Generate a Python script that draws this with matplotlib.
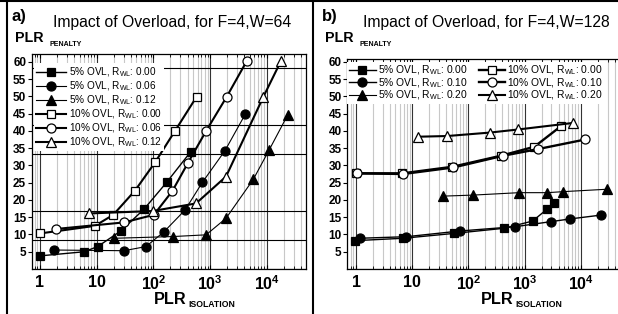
import matplotlib
matplotlib.use('Agg')
import matplotlib.pyplot as plt
from matplotlib.ticker import MultipleLocator, FixedLocator, FixedFormatter, LogLocator, NullFormatter
from matplotlib.lines import Line2D

plt.rcParams['font.family'] = ['Liberation Sans', 'DejaVu Sans']
plt.rcParams['mathtext.fontset'] = 'custom'
plt.rcParams['mathtext.rm'] = 'Liberation Sans'
plt.rcParams['mathtext.bf'] = 'Liberation Sans:bold'
plt.rcParams['mathtext.it'] = 'Liberation Sans:italic'

# panel a: F=4, W=64
a_labels = ['5% OVL, R$_{\\mathrm{WL}}$: 0.00', '5% OVL, R$_{\\mathrm{WL}}$: 0.06',
            '5% OVL, R$_{\\mathrm{WL}}$: 0.12', '10% OVL, R$_{\\mathrm{WL}}$: 0.00',
            '10% OVL, R$_{\\mathrm{WL}}$: 0.06', '10% OVL, R$_{\\mathrm{WL}}$: 0.12']
a_x = [[1.0, 6.0, 10.4, 26.5, 68, 171, 456],
       [1.79, 30.3, 74, 154, 362, 730, 1830, 4150],
       [20.2, 219, 850, 1910, 5790, 11000, 23300],
       [1.0, 9.3, 19.6, 47.3, 107, 240, 577],
       [1.92, 30.3, 102, 216, 402, 850, 1960, 4440],
       [7.4, 97, 564, 1910, 8700, 17800]]
a_y = [[3.8, 5.0, 6.5, 11.0, 17.3, 25.1, 34.0],
       [5.5, 5.3, 6.5, 10.8, 17.1, 25.1, 34.3, 44.8],
       [8.9, 9.4, 9.9, 14.7, 26.0, 34.5, 44.6],
       [10.3, 12.5, 15.7, 22.7, 30.9, 40.0, 49.9],
       [11.6, 13.5, 15.7, 22.6, 30.6, 40.0, 49.9, 60.3],
       [16.1, 16.8, 19.0, 26.8, 49.9, 60.3]]

# panel b: F=4, W=128
b_labels = ['5% OVL, R$_{\\mathrm{WL}}$: 0.00', '5% OVL, R$_{\\mathrm{WL}}$: 0.10',
            '5% OVL, R$_{\\mathrm{WL}}$: 0.20', '10% OVL, R$_{\\mathrm{WL}}$: 0.00',
            '10% OVL, R$_{\\mathrm{WL}}$: 0.10', '10% OVL, R$_{\\mathrm{WL}}$: 0.20']
b_x = [[0.95, 6.9, 55, 436, 1390, 2530, 3320],
       [1.16, 7.9, 70, 676, 2900, 6440, 22600],
       [35.5, 122, 795, 2530, 4900, 29600],
       [0.99, 6.7, 52, 380, 1490, 4460],
       [1.04, 6.9, 54, 417, 1700, 12000],
       [12.7, 42, 242, 770, 7350]]
b_y = [[8.2, 8.9, 10.3, 11.8, 13.9, 17.4, 19.0],
       [8.9, 9.35, 11.0, 12.25, 13.7, 14.5, 15.6],
       [21.1, 21.4, 22.1, 22.1, 22.4, 23.1],
       [27.7, 27.7, 29.6, 32.8, 35.4, 41.4],
       [27.7, 27.5, 29.4, 32.8, 34.7, 37.5],
       [38.3, 38.5, 39.5, 40.4, 42.3]]

xticks = [1, 10, 100, 1000, 10000]
xtick_labels = ['1', '10', '10$^{\\mathbf{2}}$', '10$^{\\mathbf{3}}$', '10$^{\\mathbf{4}}$']
yticks = [5, 10, 15, 20, 25, 30, 35, 40, 45, 50, 55, 60]

markers = ['s', 'o', '^', 's', 'o', '^']
faces = ['black', 'black', 'black', 'white', 'white', 'white']
msizes = [5.5, 6.5, 6.5, 5.5, 6.5, 7]


def draw_panel(ax, xs, ys, labels, widths, ygrid):
    for i in range(6):
        ax.plot(xs[i], ys[i], marker=markers[i], mfc=faces[i], mec='black', mew=0.9,
                ms=msizes[i], color='black', lw=widths[i], label=labels[i], zorder=3)
    ax.set_xscale('log')
    ax.xaxis.set_major_locator(FixedLocator(xticks))
    ax.xaxis.set_major_formatter(FixedFormatter(xtick_labels))
    ax.xaxis.set_minor_locator(LogLocator(base=10, subs=range(2, 10), numticks=20))
    ax.xaxis.set_minor_formatter(NullFormatter())
    ax.set_yticks(yticks)
    ax.yaxis.set_minor_locator(MultipleLocator(ygrid))
    ax.grid(which='major', axis='x', color='#333333', lw=0.8)
    ax.grid(which='minor', axis='x', color='#c8c8c8', lw=0.8)
    ax.grid(which='minor', axis='y', color='black', lw=0.8)
    ax.tick_params(axis='x', which='both', direction='in', top=True, pad=4)
    ax.tick_params(axis='x', which='major', length=3, labelsize=11.5)
    ax.tick_params(axis='x', which='minor', length=2)
    ax.tick_params(axis='y', which='major', length=3, pad=1, labelsize=8.5)
    ax.tick_params(axis='y', which='minor', length=0)
    for lab in ax.get_xticklabels() + ax.get_yticklabels():
        lab.set_fontweight('bold')
    for s in ax.spines.values():
        s.set_linewidth(0.9)


fig = plt.figure(figsize=(6.18, 3.14), dpi=100)
W, H = 618, 314

ax1 = fig.add_axes([31.7 / W, 1 - 269 / H, (305.7 - 31.7) / W, (269 - 54) / H])
draw_panel(ax1, a_x, a_y, a_labels, [1.0, 0.8, 0.8, 1.5, 1.5, 1.5], 25 / 3)
ax1.set_xlim(0.714, 48500)
ax1.set_ylim(0, 62.3)
leg1 = ax1.legend(loc='upper left', bbox_to_anchor=(0.01, 0.957), fontsize=7.2, ncol=1,
                  handlelength=3.0, handletextpad=0.25, labelspacing=0.05, borderpad=0.2,
                  borderaxespad=0.0, fancybox=False, framealpha=1, edgecolor='none')

ax2 = fig.add_axes([347.3 / W, 1 - 269 / H, (617.5 - 347.3) / W, (269 - 59) / H])
draw_panel(ax2, b_x, b_y, b_labels, [1.0, 1.0, 0.8, 1.7, 1.7, 1.5], 10)
ax2.set_xlim(0.70, 44800)
ax2.set_ylim(0, 60.8)
ax2.spines['right'].set_visible(False)
leg2 = ax2.legend(loc='upper left', bbox_to_anchor=(0.0, 0.985), fontsize=7.4, ncol=2,
                  handlelength=2.6, handletextpad=0.2, labelspacing=-0.12, borderpad=0.15,
                  columnspacing=1.1, borderaxespad=0.0, fancybox=False, framealpha=1,
                  edgecolor='none')

# titles and axis labels
for x0, tag, title in [(12, 'a)', 'Impact of Overload, for F=4,W=64'),
                       (322, 'b)', 'Impact of Overload, for F=4,W=128')]:
    fig.text(x0 / W, 1 - 17 / H, tag, fontsize=12, fontweight='bold', va='center')
    fig.text((x0 + 41) / W, 1 - 23 / H, title, fontsize=11.3, va='center')
    fig.text((x0 + 3) / W, 1 - 42 / H, 'PLR', fontsize=10.3, fontweight='bold', va='baseline')
    fig.text((x0 + 37) / W, 1 - 46 / H, 'PENALTY', fontsize=5.0, fontweight='bold', va='baseline')

for x0 in [154, 481]:
    fig.text(x0 / W, 1 - 304 / H, 'PLR', fontsize=11.7, fontweight='bold', va='baseline')
    fig.text((x0 + 34) / W, 1 - 307 / H, 'ISOLATION', fontsize=6.2, fontweight='bold', va='baseline')

# table borders around the two panels
fig.add_artist(Line2D([7 / W, 7 / W], [0, 1], color='black', lw=1.5))
fig.add_artist(Line2D([312.5 / W, 312.5 / W], [0, 1], color='black', lw=1.5))
fig.add_artist(Line2D([0, 1], [1 - 1 / H, 1 - 1 / H], color='black', lw=1.5))

fig.savefig('out.png', dpi=100)
